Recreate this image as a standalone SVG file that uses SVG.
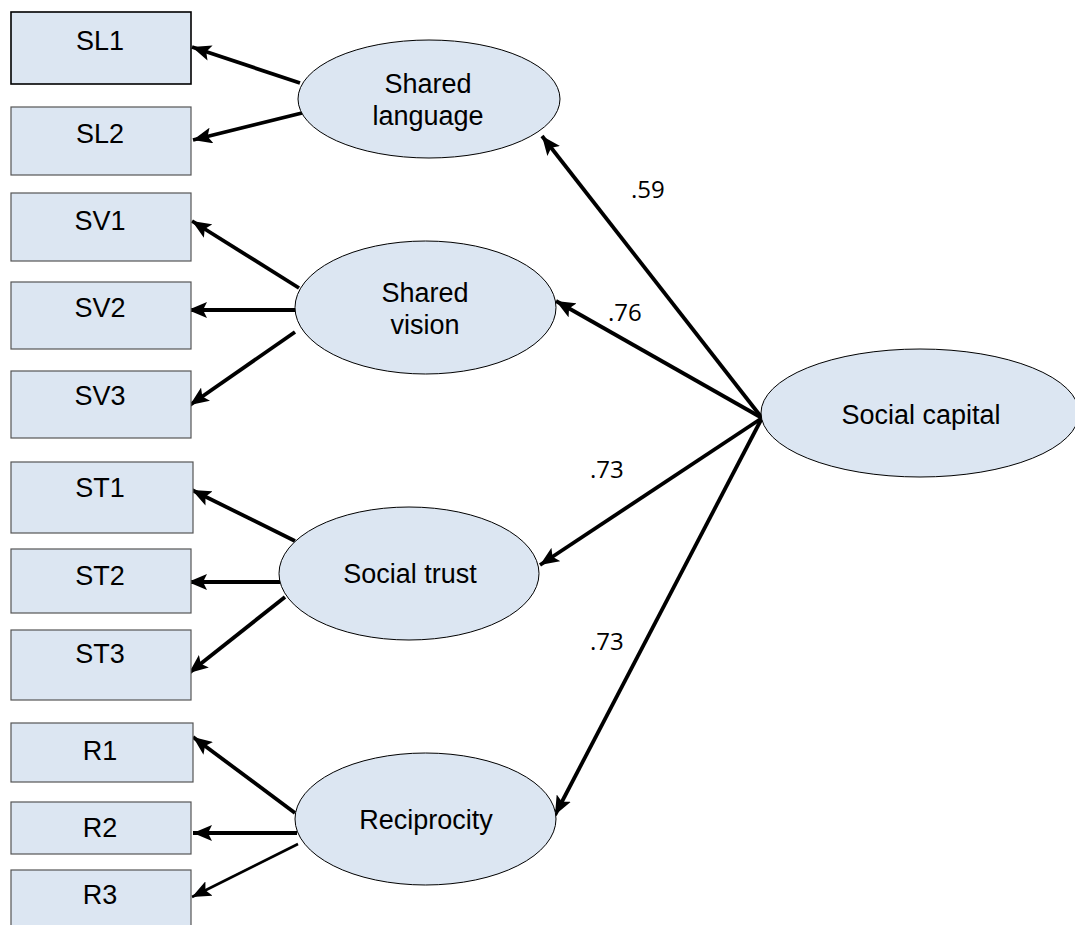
<svg xmlns="http://www.w3.org/2000/svg" width="1075" height="925" viewBox="0 0 1075 925">
<style>
.box{fill:#dce6f2;stroke:#555;stroke-width:1.2}
.oval{fill:#dce6f2;stroke:#000;stroke-width:1}
.lbl{font-family:"Liberation Sans",Arial,sans-serif;font-size:27px;fill:#000;text-anchor:middle}
.num{font-family:"Open Sans","DejaVu Sans",sans-serif;font-size:24px;fill:#000}
.c{stroke:#000;stroke-width:3.8;fill:none;marker-end:url(#ah)}
</style>
<defs>
<marker id="ah" markerUnits="userSpaceOnUse" markerWidth="20" markerHeight="16" refX="19" refY="8" orient="auto">
<path d="M0,0 L19,8 L0,16 L4,8 z" fill="#000"/>
</marker>
</defs>
<rect width="1075" height="925" fill="#fff"/>
<g id="connectors">
<line class="c" x1="300" y1="83" x2="192" y2="47"/>
<line class="c" x1="302" y1="113" x2="193" y2="140"/>
<line class="c" x1="299" y1="288" x2="192" y2="221"/>
<line class="c" x1="295" y1="310" x2="188" y2="310"/>
<line class="c" x1="295" y1="332" x2="190" y2="405"/>
<line class="c" x1="295" y1="541" x2="192" y2="490"/>
<line class="c" x1="280" y1="582" x2="188" y2="582"/>
<line class="c" x1="285" y1="597" x2="189" y2="673"/>
<line class="c" x1="295" y1="813" x2="193" y2="737"/>
<line class="c" x1="297" y1="833" x2="193" y2="833"/>
<line class="c" x1="298" y1="844" x2="192" y2="897" style="stroke-width:2.6"/>
<line class="c" x1="762" y1="418" x2="542" y2="136"/>
<line class="c" x1="762" y1="418" x2="556" y2="301"/>
<line class="c" x1="762" y1="418" x2="540" y2="565"/>
<line class="c" x1="762" y1="418" x2="555" y2="815"/>
<text class="num" x="631" y="198">.59</text>
<text class="num" x="608" y="321">.76</text>
<text class="num" x="590" y="478">.73</text>
<text class="num" x="590" y="650">.73</text>
</g>
<g id="SL1"><rect class="box" x="11" y="12" width="180" height="72" style="stroke:#000;stroke-width:1.6"/><text class="lbl" x="100" y="50">SL1</text></g>
<g id="SL2"><rect class="box" x="11" y="107" width="180" height="68"/><text class="lbl" x="100" y="143">SL2</text></g>
<g id="SV1"><rect class="box" x="11" y="193" width="180" height="68"/><text class="lbl" x="100" y="230">SV1</text></g>
<g id="SV2"><rect class="box" x="11" y="282" width="180" height="67"/><text class="lbl" x="100" y="317">SV2</text></g>
<g id="SV3"><rect class="box" x="11" y="371" width="180" height="67"/><text class="lbl" x="100" y="405">SV3</text></g>
<g id="ST1"><rect class="box" x="11" y="462" width="182" height="71"/><text class="lbl" x="100" y="497">ST1</text></g>
<g id="ST2"><rect class="box" x="11" y="549" width="180" height="64"/><text class="lbl" x="100" y="585">ST2</text></g>
<g id="ST3"><rect class="box" x="11" y="630" width="180" height="70"/><text class="lbl" x="100" y="663">ST3</text></g>
<g id="R1"><rect class="box" x="11" y="723" width="182" height="59"/><text class="lbl" x="100" y="760">R1</text></g>
<g id="R2"><rect class="box" x="11" y="802" width="180" height="52"/><text class="lbl" x="100" y="837">R2</text></g>
<g id="R3"><rect class="box" x="11" y="870" width="180" height="70"/><text class="lbl" x="100" y="904">R3</text></g>
<g id="shared-language"><ellipse class="oval" cx="429" cy="99" rx="131" ry="59"/><text class="lbl" x="428" y="93">Shared</text><text class="lbl" x="428" y="125">language</text></g>
<g id="shared-vision"><ellipse class="oval" cx="425.5" cy="307.5" rx="130.5" ry="66.5"/><text class="lbl" x="425" y="302">Shared</text><text class="lbl" x="425" y="334">vision</text></g>
<g id="social-trust"><ellipse class="oval" cx="409" cy="573.5" rx="130" ry="66.5"/><text class="lbl" x="410" y="583">Social trust</text></g>
<g id="reciprocity"><ellipse class="oval" cx="425.5" cy="819" rx="130.5" ry="66"/><text class="lbl" x="426" y="829">Reciprocity</text></g>
<g id="social-capital"><ellipse class="oval" cx="920" cy="413" rx="159" ry="64"/><text class="lbl" x="921" y="424">Social capital</text></g>
</svg>
